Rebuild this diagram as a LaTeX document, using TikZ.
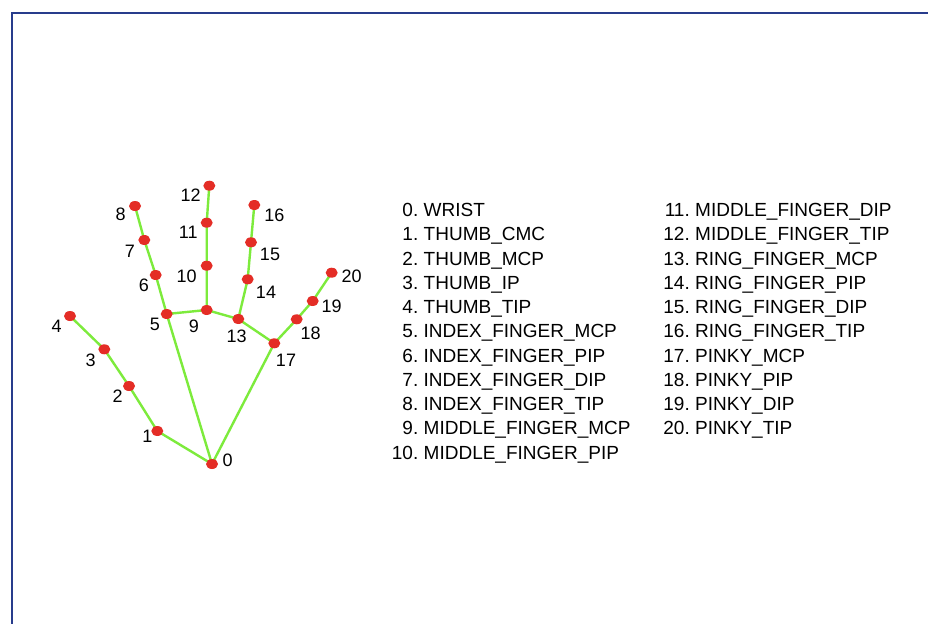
\documentclass[tikz,border=0pt]{standalone}
\usepackage{fontspec}
\setmainfont{Liberation Sans}
\usetikzlibrary{shapes.geometric,backgrounds}
\definecolor{dotred}{RGB}{228,45,38}
\definecolor{bonegreen}{RGB}{125,235,60}
\definecolor{frameblue}{RGB}{40,60,140}
\tikzset{
  joint/.style={ellipse,fill=dotred,draw=none,minimum width=12pt,minimum height=10pt,inner sep=0pt},
  bone/.style={draw=bonegreen,line width=2.4pt},
  jlabel/.style={font=\fontsize{18}{18}\selectfont,inner sep=0pt,anchor=center},
  numtxt/.style={font=\fontsize{19}{19}\selectfont,inner sep=0pt,anchor=base east},
  nametxt/.style={font=\fontsize{19}{19}\selectfont,inner sep=0pt,anchor=base west},
  frameline/.style={draw=frameblue,line width=1.5pt}
}
\begin{document}
\begin{tikzpicture}[x=1pt,y=-1pt]
\useasboundingbox (0,0) rectangle (928,624);
% joints
\node[joint] (p0) at (212,464) {};
\node[joint] (p1) at (157.3,431) {};
\node[joint] (p2) at (129,386) {};
\node[joint] (p3) at (104.3,349.3) {};
\node[joint] (p4) at (70,316) {};
\node[joint] (p5) at (166.7,314) {};
\node[joint] (p6) at (155.7,275) {};
\node[joint] (p7) at (144.3,240) {};
\node[joint] (p8) at (135,206) {};
\node[joint] (p9) at (206.7,310) {};
\node[joint] (p10) at (206.7,265.7) {};
\node[joint] (p11) at (206.7,222.7) {};
\node[joint] (p12) at (209.3,185.7) {};
\node[joint] (p13) at (238.3,319) {};
\node[joint] (p14) at (247.7,279.3) {};
\node[joint] (p15) at (251,242.3) {};
\node[joint] (p16) at (254.3,205) {};
\node[joint] (p17) at (274.3,343.3) {};
\node[joint] (p18) at (296.7,319.3) {};
\node[joint] (p19) at (312.7,301) {};
\node[joint] (p20) at (331.7,272.7) {};
\begin{scope}[on background layer]
\fill[white] (0,0) rectangle (928,624);
\coordinate (fa) at (12,13);
\coordinate (fb) at (928,13);
\coordinate (fc) at (12,624);
\draw[frameline] (fb) -- (fa) -- (fc);
\draw[bone] (p0.center) -- (p1.center) -- (p2.center) -- (p3.center) -- (p4.center);
\draw[bone] (p0.center) -- (p5.center) -- (p6.center) -- (p7.center) -- (p8.center);
\draw[bone] (p5.center) -- (p9.center) -- (p10.center) -- (p11.center) -- (p12.center);
\draw[bone] (p9.center) -- (p13.center) -- (p14.center) -- (p15.center) -- (p16.center);
\draw[bone] (p13.center) -- (p17.center) -- (p18.center) -- (p19.center) -- (p20.center);
\draw[bone] (p0.center) -- (p17.center);
\end{scope}
% joint labels
\node[jlabel] (l0) at (227.7,460.7) {0};
\node[jlabel] (l1) at (147.3,436.7) {1};
\node[jlabel] (l2) at (117.7,396) {2};
\node[jlabel] (l3) at (90.7,360) {3};
\node[jlabel] (l4) at (56.7,326.7) {4};
\node[jlabel] (l5) at (155,324) {5};
\node[jlabel] (l6) at (144,285) {6};
\node[jlabel] (l7) at (130,251) {7};
\node[jlabel] (l8) at (120.7,214.3) {8};
\node[jlabel] (l9) at (194,326.7) {9};
\node[jlabel] (l10) at (186.7,276) {10};
\node[jlabel] (l11) at (188.3,232.7) {11};
\node[jlabel] (l12) at (190.7,195) {12};
\node[jlabel] (l13) at (236.7,336.7) {13};
\node[jlabel] (l14) at (266,292.7) {14};
\node[jlabel] (l15) at (270,254.3) {15};
\node[jlabel] (l16) at (274.3,215) {16};
\node[jlabel] (l17) at (286,360) {17};
\node[jlabel] (l18) at (310.7,333.3) {18};
\node[jlabel] (l19) at (331.7,306.7) {19};
\node[jlabel] (l20) at (351.7,276) {20};
% legend column 1
\foreach \i/\t in {0/WRIST,1/THUMB\_CMC,2/THUMB\_MCP,3/THUMB\_IP,4/THUMB\_TIP,5/INDEX\_FINGER\_MCP,6/INDEX\_FINGER\_PIP,7/INDEX\_FINGER\_DIP,8/INDEX\_FINGER\_TIP,9/MIDDLE\_FINGER\_MCP,10/MIDDLE\_FINGER\_PIP}{
  \node[numtxt] (n\i) at (418.5,216.5+24.27*\i) {\i.};
  \node[nametxt] (t\i) at (423.5,216.5+24.27*\i) {\t};
}
% legend column 2
\foreach \i/\t in {11/MIDDLE\_FINGER\_DIP,12/MIDDLE\_FINGER\_TIP,13/RING\_FINGER\_MCP,14/RING\_FINGER\_PIP,15/RING\_FINGER\_DIP,16/RING\_FINGER\_TIP,17/PINKY\_MCP,18/PINKY\_PIP,19/PINKY\_DIP,20/PINKY\_TIP}{
  \node[numtxt] (n\i) at (690,216.5+24.27*\i-24.27*11) {\i.};
  \node[nametxt] (t\i) at (695,216.5+24.27*\i-24.27*11) {\t};
}
\end{tikzpicture}
\end{document}
